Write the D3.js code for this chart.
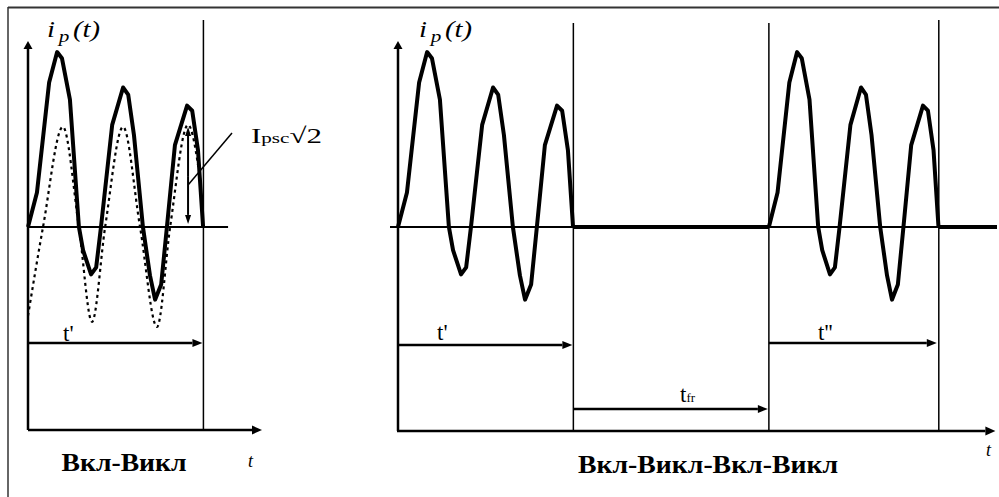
<!DOCTYPE html>
<html>
<head>
<meta charset="utf-8">
<script src="https://cdn.jsdelivr.net/npm/d3@7"></script>
<style>
  body { margin: 0; background: #fff; }
  svg { display: block; }
  text { fill: #000; }
</style>
</head>
<body>
<div id="chart"></div>
<script>
// струм i_p(t) : вершини ламаної (час у мс, струм у відносних одиницях)
var waveT = [0, 2.8, 6.6, 9.1, 10.6, 13.1, 15.9, 17.2, 19.7, 21.3, 22.8, 26.3, 29.7, 31.3, 33.1,
             35.9, 38.1, 39.7, 41.6, 43.4, 45.9, 49.7, 51.3, 53.1, 54.7];
var waveI = [0, 0.34, 1.43, 1.73, 1.67, 1.26, 0, -0.23, -0.47, -0.40, 0, 1.01, 1.38, 1.31, 0.91,
             0, -0.48, -0.72, -0.57, 0, 0.81, 1.20, 1.15, 0.76, 0];

// періодична складова (пунктир)
var acT = [0, 4.7, 10.9, 15.9, 20, 24.1, 29.7, 35, 40.3, 44.4, 50, 53.8];
var acI = [-0.88, 0, 0.99, 0, -0.94, 0, 0.99, 0, -0.99, 0, 1.01, 0.47];

// інтервали часу, мс
var tPrime = 54.8;   // t'
var tFr = 61.1;      // t_fr
var tDouble = 53.1;  // t''
var ampT = 50;       // де показано амплітуду Ipsc*sqrt2
var ampI = 0.99;

// підписи
var titleLeft = "Вкл-Викл";
var titleRight = "Вкл-Викл-Вкл-Викл";

const W = 999, H = 497;
const FONT = "'Liberation Serif', serif";

var svg = d3.select("#chart")
    .append("svg")
    .attr("width", W)
    .attr("height", H);

var xL = d3.scaleLinear().domain([0, 73.1]).range([28, 262]);
var xR = d3.scaleLinear().domain([0, 187]).range([398, 996.4]);
var y = d3.scaleLinear().domain([-2.01, 1.84]).range([430, 41]);

var line = d3.line()
    .x(function(d) { return d[0]; })
    .y(function(d) { return d[1]; });

// лінія зі стрілкою на кінці (x2,y2)
function arrow(g, x1, y1, x2, y2, len, wid, sw) {
  var a = Math.atan2(y2 - y1, x2 - x1);
  var bx = x2 - len * Math.cos(a), by = y2 - len * Math.sin(a);
  g.append("line")
      .attr("x1", x1).attr("y1", y1).attr("x2", bx).attr("y2", by)
      .attr("stroke", "#000").attr("stroke-width", sw);
  var px = Math.sin(a) * wid / 2, py = -Math.cos(a) * wid / 2;
  g.append("path")
      .attr("d", "M" + x2 + "," + y2 + "L" + (bx + px) + "," + (by + py) + "L" + (bx - px) + "," + (by - py) + "Z")
      .attr("fill", "#000");
}

function simple(g, x1, y1, x2, y2, sw) {
  g.append("line")
      .attr("x1", x1).attr("y1", y1).attr("x2", x2).attr("y2", y2)
      .attr("stroke", "#000").attr("stroke-width", sw);
}

function label(g, x0, y0, size, txt) {
  var t = g.append("text").attr("x", x0).attr("y", y0)
      .style("font-family", FONT).style("font-size", size + "px");
  if (txt) t.text(txt);
  return t;
}

function ipLabel(g, x0) {
  var t = label(g, x0, 37, 23, null).style("font-style", "italic")
      .attr("textLength", 53).attr("lengthAdjust", "spacingAndGlyphs");
  t.append("tspan").text("i");
  t.append("tspan").attr("dx", 3).attr("dy", 5).style("font-size", "17px").text("p");
  t.append("tspan").attr("dx", 3).attr("dy", -5).text("(t)");
}

// рамка
svg.append("line").attr("x1", 8).attr("y1", 7.5).attr("x2", W).attr("y2", 7.5)
    .attr("stroke", "#333").attr("stroke-width", 2);
svg.append("line").attr("x1", 8).attr("y1", 7).attr("x2", 8).attr("y2", H)
    .attr("stroke", "#333").attr("stroke-width", 1.5);

// ---------- ліва діаграма ----------
var gl = svg.append("g").attr("class", "left");

simple(gl, xL(0) - 1, y(0), xL(62.5), y(0), 2);
simple(gl, xL(tPrime), 20, xL(tPrime), y(-2.01), 1.5);
arrow(gl, xL(0), y(-2.01), xL(0), y(1.84), 8, 9, 2.5);
arrow(gl, xL(0), y(-2.01), xL(73.1), y(-2.01), 10, 9, 2.5);
arrow(gl, xL(0), 343, xL(tPrime) - 1, 343, 10, 8, 2.3);

gl.append("path")
    .datum(acT.map(function(t, i) { return [xL(t), y(acI[i])]; }))
    .attr("d", line.curve(d3.curveMonotoneX))
    .attr("fill", "none")
    .attr("stroke", "#000")
    .attr("stroke-width", 2.2)
    .attr("stroke-dasharray", "3,3.5");

line.curve(d3.curveLinear);
gl.append("path")
    .datum(waveT.map(function(t, i) { return [xL(t), y(waveI[i])]; }))
    .attr("d", line)
    .attr("fill", "none")
    .attr("stroke", "#000")
    .attr("stroke-width", 4)
    .attr("stroke-linejoin", "round");

// амплітуда
arrow(gl, xL(ampT), (y(ampI) + y(0)) / 2, xL(ampT), y(ampI), 9, 6, 2);
arrow(gl, xL(ampT), (y(ampI) + y(0)) / 2, xL(ampT), y(0) - 3, 9, 6, 2);
simple(gl, 232, 133, xL(ampT), 185, 1.5);

var ip = label(gl, 251, 143, 22, null)
    .attr("textLength", 71).attr("lengthAdjust", "spacingAndGlyphs");
ip.append("tspan").text("I");
ip.append("tspan").style("font-size", "15px").text("psc");
ip.append("tspan").text("√2");

ipLabel(gl, 47);
label(gl, 63, 341, 23, "t'");
label(gl, 248, 467, 18, "t").style("font-style", "italic");
label(gl, 124, 471, 26, titleLeft).attr("text-anchor", "middle").style("font-weight", "bold")
    .attr("textLength", 125).attr("lengthAdjust", "spacingAndGlyphs");

// ---------- права діаграма ----------
var gr = svg.append("g").attr("class", "right");
var t2 = tPrime + tFr;
var t3 = t2 + tDouble;

simple(gr, xR(0) - 8, y(0), 997, y(0), 2);
simple(gr, xR(tPrime), 23, xR(tPrime), 431, 1.5);
simple(gr, xR(t2), 23, xR(t2), 431, 1.5);
simple(gr, xR(t3), 20, xR(t3), 431, 1.5);
arrow(gr, xR(0), 431, xR(0), y(1.84), 8, 9, 2.5);
arrow(gr, xR(0) - 1, 431, xR(187) - 1, 431, 10, 9, 2.5);
arrow(gr, xR(0), 345, xR(tPrime) - 1, 345, 10, 8, 2.3);
arrow(gr, xR(tPrime), 409, xR(t2) - 1, 409, 10, 8, 2.3);
arrow(gr, xR(t2), 343, xR(t3) - 2, 343, 10, 8, 2.3);

// струм відсутній: товста лінія на нулі
simple(gr, xR(tPrime), y(0), xR(t2), y(0), 4);
simple(gr, xR(t3), y(0), 997, y(0), 4);

gr.append("path")
    .datum(waveT.map(function(t, i) { return [xR(t), y(waveI[i])]; }))
    .attr("d", line)
    .attr("fill", "none").attr("stroke", "#000").attr("stroke-width", 4)
    .attr("stroke-linejoin", "round");

gr.append("path")
    .datum(waveT.map(function(t, i) { return [xR(t2 + t * tDouble / tPrime), y(waveI[i])]; }))
    .attr("d", line)
    .attr("fill", "none").attr("stroke", "#000").attr("stroke-width", 4)
    .attr("stroke-linejoin", "round");

ipLabel(gr, 419);
label(gr, 437, 340, 23, "t'");
label(gr, 818, 340, 23, "t''");
var tf = label(gr, 680, 402, 23, null);
tf.append("tspan").text("t");
tf.append("tspan").style("font-size", "13px").text("fr");
label(gr, 986, 456, 18, "t").style("font-style", "italic");
label(gr, 708, 473, 26, titleRight).attr("text-anchor", "middle").style("font-weight", "bold")
    .attr("textLength", 260).attr("lengthAdjust", "spacingAndGlyphs");
</script>
</body>
</html>
